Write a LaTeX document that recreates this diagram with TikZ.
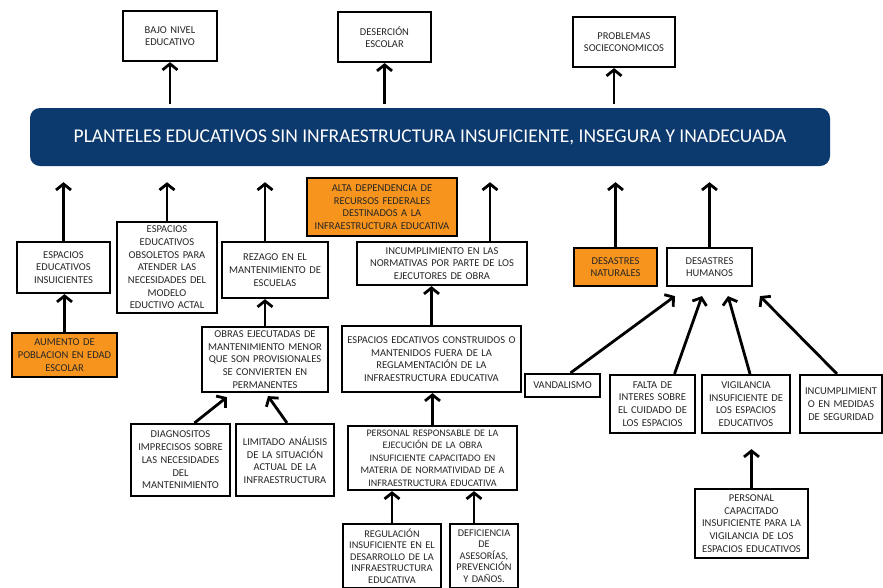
\documentclass[tikz,border=0pt]{standalone}
\usepackage{fontspec}
\setmainfont{Carlito}
\usetikzlibrary{arrows.meta}
\definecolor{navy}{HTML}{0D3A6E}
\definecolor{orng}{HTML}{F7941D}
\newcommand\mybox[7]{%
  \pgfmathsetmacro\bw{#4-#2}\pgfmathsetmacro\bh{#5-#3}\pgfmathsetmacro\tw{#4-#2-4}%
  \pgfmathsetmacro\cx{(#2+#4)/2}\pgfmathsetmacro\cy{(#3+#5)/2}%
  \node[box,#6,minimum width=\bw pt,minimum height=\bh pt,text width=\tw pt] (#1) at (\cx,\cy) {#7};}
\tikzset{
  box/.style={draw, line width=2.2pt, align=center, fill=white, text=black!85,
    inner xsep=2pt, inner ysep=1pt, font=\fontsize{10.5}{12.7}\selectfont},
  orangebox/.style={fill=orng},
  tightbox/.style={font=\fontsize{10.3}{11.6}\selectfont},
  arr/.style={line width=2.8pt, -{Straight Barb[length=6pt,width=15pt]}},
  gap/.style={shorten >=16pt}
}
\begin{document}
\begin{tikzpicture}[x=1pt,y=-1pt]
\useasboundingbox (0,0) rectangle (883,587);
% banner
\node[fill=navy, rounded corners=10pt, minimum width=800pt, minimum height=58pt,
  text=white, font=\fontsize{19.5}{22}\selectfont, inner sep=0pt] (banner) at (430,137)
  {PLANTELES EDUCATIVOS SIN INFRAESTRUCTURA INSUFICIENTE, INSEGURA Y INADECUADA};
% top effects
\mybox{bajo}{123}{11}{217}{61}{}{BAJO NIVEL\\EDUCATIVO}
\mybox{deser}{338}{12}{431}{62}{}{DESERCIÓN\\ESCOLAR}
\mybox{probl}{573}{17}{675}{67}{}{PROBLEMAS\\SOCIECONOMICOS}
% causes
\mybox{espins}{17}{242}{110}{293}{}{ESPACIOS\\EDUCATIVOS\\INSUICIENTES}
\mybox{aumento}{12}{333}{117}{377}{orangebox}{AUMENTO DE\\POBLACION EN EDAD\\ESCOLAR}
\mybox{obsol}{117}{222}{217}{313}{}{ESPACIOS\\EDUCATIVOS\\OBSOLETOS PARA\\ATENDER LAS\\NECESIDADES DEL\\MODELO\\EDUCTIVO ACTAL}
\mybox{rezago}{222}{242}{328}{298}{}{REZAGO EN EL\\MANTENIMIENTO DE\\ESCUELAS}
\mybox{alta}{307}{178}{457}{236}{orangebox}{ALTA DEPENDENCIA DE\\RECURSOS FEDERALES\\DESTINADOS A LA\\INFRAESTRUCTURA EDUCATIVA}
\mybox{incump}{357}{242}{527}{285}{}{INCUMPLIMIENTO EN LAS\\NORMATIVAS POR PARTE DE LOS\\EJECUTORES DE OBRA}
\mybox{obras}{202}{327}{328}{392}{}{OBRAS EJECUTADAS DE\\MANTENIMIENTO MENOR\\QUE SON PROVISIONALES\\SE CONVIERTEN EN\\PERMANENTES}
\mybox{constr}{342}{326}{521}{392}{}{ESPACIOS EDCATIVOS CONSTRUIDOS O\\MANTENIDOS FUERA DE LA\\REGLAMENTACIÓN DE LA\\INFRAESTRUCTURA EDUCATIVA}
\mybox{diag}{131}{424}{230}{496}{}{DIAGNOSITOS\\IMPRECISOS SOBRE\\LAS NECESIDADES\\DEL\\MANTENIMIENTO}
\mybox{limit}{236}{424}{334}{496}{}{LIMITADO ANÁLISIS\\DE LA SITUACIÓN\\ACTUAL DE LA\\INFRAESTRUCTURA}
\mybox{persresp}{348}{426}{517}{490}{font=\fontsize{10}{12.5}\selectfont}{PERSONAL RESPONSABLE DE LA\\EJECUCIÓN DE LA OBRA\\INSUFICIENTE CAPACITADO EN\\MATERIA DE NORMATIVIDAD DE A\\INFRAESTRUCTURA EDUCATIVA}
\mybox{regul}{343}{524}{441}{588}{tightbox}{REGULACIÓN\\INSUFICIENTE EN EL\\DESARROLLO DE LA\\INFRAESTRUCTURA\\EDUCATIVA}
\mybox{defic}{450}{524}{518}{588}{tightbox}{DEFICIENCIA\\DE\\ASESORÍAS,\\PREVENCIÓN\\Y DAÑOS.}
\mybox{desnat}{574}{248}{657}{286}{orangebox}{DESASTRES\\NATURALES}
\mybox{deshum}{667}{248}{752}{286}{}{DESASTRES\\HUMANOS}
\mybox{vandal}{525}{374}{600}{397}{}{VANDALISMO}
\mybox{falta}{610}{375}{695}{433}{}{FALTA DE\\INTERES SOBRE\\EL CUIDADO DE\\LOS ESPACIOS}
\mybox{vigil}{702}{375}{790}{433}{}{VIGILANCIA\\INSUFICIENTE DE\\LOS ESPACIOS\\EDUCATIVOS}
\mybox{incmed}{800}{375}{882}{433}{}{INCUMPLIMIENT\\O EN MEDIDAS\\DE SEGURIDAD}
\mybox{perscap}{695}{489}{808}{558}{}{PERSONAL\\CAPACITADO\\INSUFICIENTE PARA LA\\VIGILANCIA DE LOS\\ESPACIOS EDUCATIVOS}
% arrows to top effects
\draw[arr, shorten <=4pt] (bajo.south |- banner.north) -- (bajo.south);
\draw[arr, shorten <=4pt] (deser.south |- banner.north) -- (deser.south);
\draw[arr, shorten <=4pt] ([xshift=-10pt]probl.south |- banner.north) -- ([xshift=-10pt]probl.south);
% arrows to banner
\draw[arr, gap] (espins.north) -- (espins.north |- banner.south);
\draw[arr, gap] (obsol.north) -- (obsol.north |- banner.south);
\draw[arr, gap] ([xshift=-10pt]rezago.north) -- ([xshift=-10pt]rezago.north |- banner.south);
\draw[arr, gap] ([xshift=48pt]incump.north) -- ([xshift=48pt]incump.north |- banner.south);
\draw[arr, gap] (desnat.north) -- (desnat.north |- banner.south);
\draw[arr, gap] (deshum.north) -- (deshum.north |- banner.south);
% inner arrows
\draw[arr] (aumento.north) -- (aumento.north |- espins.south);
\draw[arr] (obras.north) -- (obras.north |- rezago.south);
\draw[arr] (constr.north) -- (constr.north |- incump.south);
\draw[arr] (persresp.north) -- (persresp.north |- constr.south);
\draw[arr] (regul.north) -- (regul.north |- persresp.south);
\draw[arr] ([xshift=-10pt]defic.north) -- ([xshift=-10pt]defic.north |- persresp.south);
\draw[arr] ([xshift=14pt]diag.north) -- ([xshift=26pt,yshift=-4pt]obras.south west);
\draw[arr] ([xshift=2pt]limit.north) -- ([xshift=3pt,yshift=-3pt]obras.south);
\draw[arr] ([xshift=8pt]vandal.north) -- ([xshift=-34.5pt,yshift=-9pt]deshum.south);
\draw[arr] ([xshift=22pt]falta.north) -- ([xshift=-7.5pt,yshift=-9pt]deshum.south);
\draw[arr] ([xshift=4pt]vigil.north) -- ([xshift=18.5pt,yshift=-9pt]deshum.south);
\draw[arr] ([xshift=-4pt]incmed.north) -- ([xshift=50.5pt,yshift=-9pt]deshum.south);
\draw[arr, shorten >=15pt] (perscap.north) -- (perscap.north |- vigil.south);
\end{tikzpicture}
\end{document}
